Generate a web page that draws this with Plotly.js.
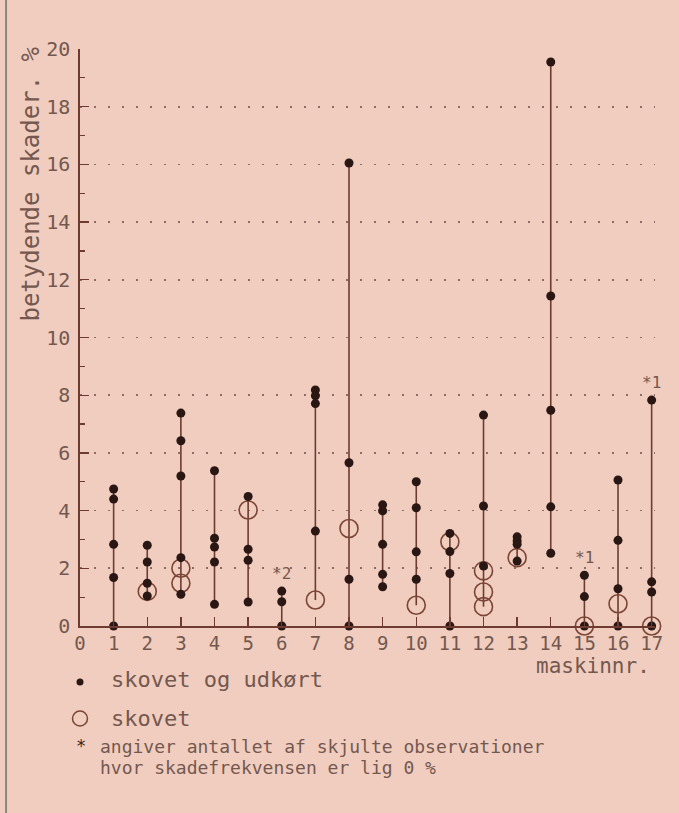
<!DOCTYPE html>
<html>
<head>
<meta charset="utf-8">
<script src="https://cdn.plot.ly/plotly-3.0.1.min.js"></script>
<style>html,body{margin:0;padding:0;background:#f0cdbe;}</style>
</head>
<body>
<div id="chart" style="width:679px;height:813px;"></div>
<script>
// "skovet og udkørt" (filled dots)
const udkortX = [1,1,1,1,1, 2,2,2,2, 3,3,3,3,3, 4,4,4,4,4, 5,5,5,5, 6,6,6, 7,7,7,7, 8,8,8,8,
  9,9,9,9,9, 10,10,10,10, 11,11,11,11, 12,12,12, 13,13,13,13, 14,14,14,14,14, 15,15,15, 16,16,16,16, 17,17,17,17];
const udkortY = [4.75,4.4,2.83,1.68,0, 2.8,2.22,1.48,1.04, 7.38,6.42,5.2,2.37,1.1, 5.38,3.04,2.74,2.22,0.75,
  4.49,2.66,2.28,0.83, 1.21,0.84,0, 8.18,7.98,7.71,3.29, 16.05,5.66,1.62,0,
  4.2,3.99,2.83,1.79,1.36, 5.0,4.1,2.57,1.62, 3.21,2.58,1.82,0, 7.31,4.16,2.08,
  3.09,2.95,2.83,2.25, 19.55,11.44,7.48,4.13,2.52, 1.76,1.02,0, 5.06,2.97,1.29,0, 7.83,1.53,1.18,0];
// "skovet" (open circles)
const skovetX = [2,3,3,5,7,8,10,11,12,12,12,13,15,16,17];
const skovetY = [1.2,2.0,1.48,4.02,0.9,3.38,0.72,2.92,1.91,1.18,0.67,2.37,0,0.77,0];
// hidden observations at 0 %
const hiddenX = [6,15,17];
const hiddenN = [2,1,1];
const xTicks = [0,1,2,3,4,5,6,7,8,9,10,11,12,13,14,15,16,17];
const yTicks = [0,2,4,6,8,10,12,14,16,18,20];

const FONT = 'DejaVu Sans Mono, Liberation Mono, monospace';
const TXT = '#745850';
const LINE = '#6e3b30';
const DOT = '#2a1714';
const CIRC = '#7a4536';

// vertical range lines per machine built from the data
const machines = [...new Set(udkortX.concat(skovetX))].sort((a,b)=>a-b);
const lx = [], ly = [];
const maxOf = {};
machines.forEach(m => {
  const vals = [];
  udkortX.forEach((x,i)=>{ if (x===m) vals.push(udkortY[i]); });
  skovetX.forEach((x,i)=>{ if (x===m) vals.push(skovetY[i]); });
  const lo = Math.min(...vals), hi = Math.max(...vals);
  maxOf[m] = Math.max(...udkortY.filter((v,i)=>udkortX[i]===m));
  lx.push(m, m, null); ly.push(lo, hi, null);
});

const traces = [
  {x: lx, y: ly, mode: 'lines', line: {color: LINE, width: 1.6}, hoverinfo: 'skip', cliponaxis: false},
  {x: skovetX, y: skovetY, mode: 'markers', cliponaxis: false,
   marker: {symbol: 'circle-open', size: 18, color: CIRC, line: {width: 1.6, color: CIRC}}},
  {x: udkortX, y: udkortY, mode: 'markers', cliponaxis: false,
   marker: {symbol: 'circle', size: 9, color: DOT}}
];

// plot area in pixels
const L = 80, R = 655.4, T = 49, B = 626;
const px = x => (x - L) / (R - L);
const py = y => (B - y) / (B - T);

const annotations = hiddenX.map((m,i) => ({
  x: m, y: maxOf[m], xref: 'x', yref: 'y', text: '*' + hiddenN[i], showarrow: false,
  yshift: 18, font: {family: FONT, size: 16, color: TXT}
}));

annotations.push(
  {xref:'paper', yref:'paper', x: px(30), y: py(45), text: 'betydende skader. %', textangle: -90,
   xanchor:'center', yanchor:'top', showarrow:false, font:{family:FONT, size:24, color:TXT}},
  {xref:'paper', yref:'paper', x: px(652), y: py(666), text: 'maskinnr.', xanchor:'right', yanchor:'middle',
   showarrow:false, font:{family:FONT, size:21, color:TXT}},
  {xref:'paper', yref:'paper', x: px(109), y: py(679), text: 'skovet og udkørt', xanchor:'left', yanchor:'middle',
   showarrow:false, font:{family:FONT, size:22, color:TXT}},
  {xref:'paper', yref:'paper', x: px(109), y: py(718), text: 'skovet', xanchor:'left', yanchor:'middle',
   showarrow:false, font:{family:FONT, size:22, color:TXT}},
  {xref:'paper', yref:'paper', x: px(74), y: py(746), text: '*', xanchor:'left', yanchor:'middle',
   showarrow:false, font:{family:FONT, size:17, color:'#3a2520'}},
  {xref:'paper', yref:'paper', x: px(98), y: py(746), text: 'angiver antallet af skjulte observationer', xanchor:'left', yanchor:'middle',
   showarrow:false, font:{family:FONT, size:18, color:TXT}},
  {xref:'paper', yref:'paper', x: px(98), y: py(767), text: 'hvor skadefrekvensen er lig 0 %', xanchor:'left', yanchor:'middle',
   showarrow:false, font:{family:FONT, size:18, color:TXT}}
);

const shapes = [
  {type:'circle', xref:'paper', yref:'paper', x0: px(76.5), x1: px(83.5), y0: py(685.5), y1: py(678.5),
   fillcolor: DOT, line:{width:0}},
  {type:'circle', xref:'paper', yref:'paper', x0: px(72.5), x1: px(87.5), y0: py(726), y1: py(711),
   fillcolor:'rgba(0,0,0,0)', line:{width:1.5, color:CIRC}},
  {type:'line', xref:'paper', yref:'paper', x0: px(6), x1: px(6), y0: py(0), y1: py(813),
   line:{width:2, color:'#8c8682'}}
];

const layout = {
  width: 679, height: 813,
  margin: {l: L, r: 679 - R, t: T, b: 813 - B},
  paper_bgcolor: '#f0cdbe', plot_bgcolor: '#f0cdbe',
  showlegend: false,
  xaxis: {range: [0, 17.1], tickvals: xTicks, ticktext: xTicks.map(String), ticks: 'inside', ticklen: 9,
    tickcolor: LINE, tickwidth: 1.3, showline: true, linecolor: LINE, linewidth: 1.6, showgrid: false,
    zeroline: false, tickfont: {family: FONT, size: 19, color: TXT}, fixedrange: true},
  yaxis: {range: [0, 20], tickvals: yTicks, ticktext: yTicks.map(String), ticks: 'inside', ticklen: 9,
    tickcolor: LINE, tickwidth: 1.3, showline: true, linecolor: LINE, linewidth: 1.6,
    showgrid: true, gridcolor: '#8a6e66', gridwidth: 1.6, griddash: '2px,12px', zeroline: false,
    minor: {dtick: 1, ticks: 'inside', ticklen: 5, tickcolor: LINE, tickwidth: 1.2, showgrid: false},
    ticklabelstandoff: 4, tickfont: {family: FONT, size: 20, color: TXT}, fixedrange: true},
  annotations: annotations,
  shapes: shapes
};

Plotly.newPlot('chart', traces, layout, {displayModeBar: false, staticPlot: true});
</script>
</body>
</html>
